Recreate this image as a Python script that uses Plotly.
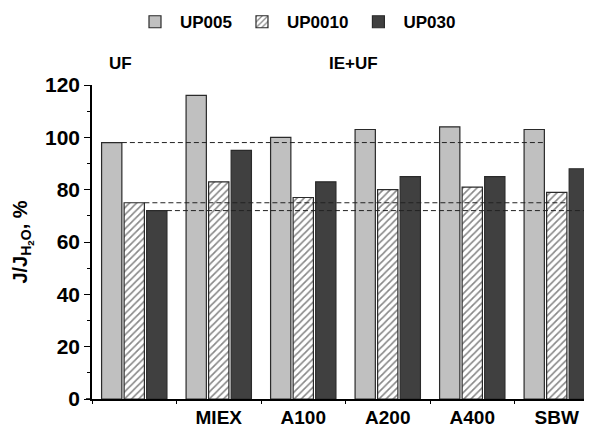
import plotly.graph_objects as go

categories = [" ", "MIEX", "A100", "A200", "A400", "SBW"]
series_names = ["UP005", "UP0010", "UP030"]
up005 = [98, 116, 100, 103, 104, 103]
up0010 = [75, 83, 77, 80, 81, 79]
up030 = [72, 95, 83, 85, 85, 88]
group_labels = ["UF", "IE+UF"]
y_ticks = [0, 20, 40, 60, 80, 100, 120]

FONT = "Liberation Sans, Arial, sans-serif"
BARGAP = 0.2
GROUPGAP = 0.1
XMAX = 5.417

fig = go.Figure()
styles = [
    dict(color="#c0c0c0"),
    dict(color="white", pattern=dict(shape="/", fgcolor="#111111", bgcolor="white", size=5, solidity=0.33)),
    dict(color="#404040"),
]
for name, vals, st in zip(series_names, [up005, up0010, up030], styles):
    fig.add_trace(go.Bar(
        x=categories, y=vals, name=name,
        marker=dict(line=dict(color="#2a2a2a", width=1.2), **st),
    ))

# dashed reference lines at UF values, from right edge of UF bar to right edge of last bar of same series
nser = len(series_names)
slot = (1 - BARGAP) / nser
bw = slot * (1 - GROUPGAP)
def right_edge(i, j):
    return i - (1 - BARGAP) / 2 + slot * (j + 0.5) + bw / 2

for j, vals in enumerate([up005, up0010, up030]):
    x0 = right_edge(0, j)
    x1 = right_edge(len(categories) - 1, j) if j < nser - 1 else XMAX
    fig.add_shape(type="line", xref="x", yref="y", x0=x0, x1=x1, y0=vals[0], y1=vals[0],
                  line=dict(color="#222222", width=1, dash="5px,3px"))

# short extension of the x axis line to the left of the y axis
fig.add_shape(type="line", xref="paper", yref="paper", x0=-0.012, x1=0, y0=0, y1=0,
              line=dict(color="black", width=1.5))

# group labels
fig.add_annotation(x=-0.16, y=1.07, xref="x", yref="paper", text=group_labels[0], showarrow=False,
                   font=dict(size=17, family=FONT, color="black", weight="bold"), yanchor="middle")
fig.add_annotation(x=2.6, y=1.07, xref="x", yref="paper", text=group_labels[1], showarrow=False,
                   font=dict(size=17, family=FONT, color="black", weight="bold"), yanchor="middle")

# page body has an 8px offset; margins compensate so the plot lands where the reference has it
fig.update_layout(
    width=592, height=425,
    margin=dict(l=84, r=8, t=77, b=34, autoexpand=False),
    paper_bgcolor="white", plot_bgcolor="white",
    barmode="group", bargap=BARGAP, bargroupgap=GROUPGAP,
    font=dict(family=FONT, size=19, color="black", weight="bold"),
    legend=dict(orientation="h", x=0.407, xanchor="center", y=1.2, yanchor="middle",
                font=dict(size=17, family=FONT, weight="bold"), itemwidth=40, traceorder="normal"),
    xaxis=dict(
        type="category", range=[-0.5, XMAX], showline=True, linecolor="black", linewidth=1.5,
        ticks="outside", tickson="boundaries", ticklen=3, tickwidth=1.2, tickcolor="black",
        showgrid=False, zeroline=False, automargin=False,
        tickfont=dict(size=19, family=FONT, weight="bold"),
    ),
    yaxis=dict(
        range=[0, 120], tickvals=y_ticks, showline=True, linecolor="black", linewidth=1.5,
        ticks="outside", ticklen=6, tickwidth=1.2, tickcolor="black",
        minor=dict(ticks="outside", dtick=10, ticklen=3, tickcolor="black", tickwidth=1),
        showgrid=False, zeroline=False, automargin=False,
        tickfont=dict(size=21, family=FONT, weight="bold"),
        title=dict(text="J/J<sub>H<sub>2</sub>O</sub>, %", standoff=12,
                   font=dict(size=20, family=FONT, weight="bold")),
    ),
)

fig.write_html("out.html")
